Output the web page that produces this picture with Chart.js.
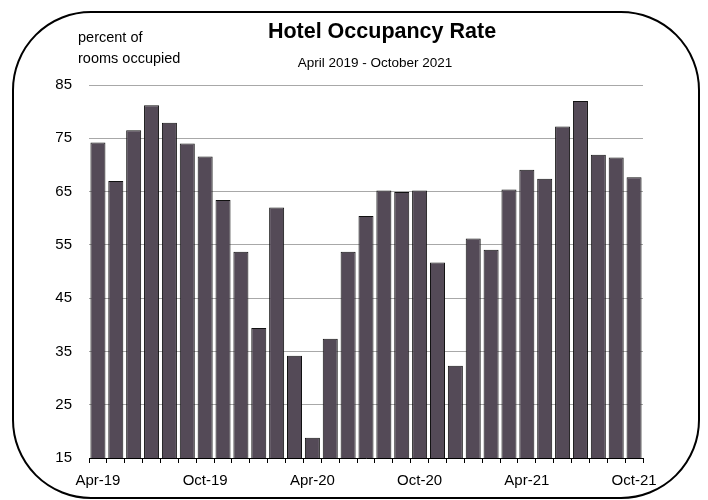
<!DOCTYPE html>
<html>
<head>
<meta charset="utf-8">
<script src="https://cdn.jsdelivr.net/npm/chart.js@4"></script>
<style>
  html, body { margin: 0; padding: 0; background: #fff; }
  #wrap { width: 708px; height: 500px; }
</style>
</head>
<body>
<div id="wrap"><canvas id="occChart" width="708" height="500"></canvas></div>
<script>
// monthly labels, Apr-19 .. Oct-21
const months = [
  'Apr-19','May-19','Jun-19','Jul-19','Aug-19','Sep-19','Oct-19','Nov-19','Dec-19',
  'Jan-20','Feb-20','Mar-20','Apr-20','May-20','Jun-20','Jul-20','Aug-20','Sep-20',
  'Oct-20','Nov-20','Dec-20','Jan-21','Feb-21','Mar-21','Apr-21','May-21','Jun-21',
  'Jul-21','Aug-21','Sep-21','Oct-21'
];
const occupancy = [
  74.2, 67.0, 76.5, 81.2, 77.9, 74.0, 71.6, 63.4, 53.7,
  39.4, 62.0, 34.2, 18.8, 37.4, 53.7, 60.4, 65.2, 64.9,
  65.2, 51.7, 32.3, 56.2, 54.1, 65.4, 69.1, 67.4, 77.2,
  82.0, 71.9, 71.4, 67.7
];
const yTicks = [15, 25, 35, 45, 55, 65, 75, 85];
const shownLabels = ['Apr-19', 'Oct-19', 'Apr-20', 'Oct-20', 'Apr-21', 'Oct-21'];

const FONT = '"Liberation Sans", Arial, sans-serif';

// frame + title texts
const decorations = {
  id: 'decorations',
  afterDraw(chart) {
    const ctx = chart.ctx;
    ctx.save();
    // rounded border
    const x0 = 13, y0 = 12, x1 = 699, y1 = 498, r = 78;
    ctx.beginPath();
    ctx.moveTo(x0 + r, y0);
    ctx.lineTo(x1 - r, y0);
    ctx.arcTo(x1, y0, x1, y0 + r, r);
    ctx.lineTo(x1, y1 - r);
    ctx.arcTo(x1, y1, x1 - r, y1, r);
    ctx.lineTo(x0 + r, y1);
    ctx.arcTo(x0, y1, x0, y1 - r, r);
    ctx.lineTo(x0, y0 + r);
    ctx.arcTo(x0, y0, x0 + r, y0, r);
    ctx.closePath();
    ctx.lineWidth = 2;
    ctx.strokeStyle = '#000';
    ctx.stroke();

    ctx.fillStyle = '#000';
    ctx.textBaseline = 'middle';
    ctx.textAlign = 'center';
    ctx.font = 'bold 21.5px ' + FONT;
    ctx.fillText('Hotel Occupancy Rate', 382, 32);
    ctx.font = '13.5px ' + FONT;
    ctx.fillText('April 2019 - October 2021', 375, 63);

    ctx.textAlign = 'left';
    ctx.font = '14.5px ' + FONT;
    ctx.fillText('percent of', 78, 38);
    ctx.fillText('rooms occupied', 78, 59);
    ctx.restore();
  }
};

new Chart(document.getElementById('occChart'), {
  type: 'bar',
  data: {
    labels: months,
    datasets: [{
      label: 'Occupancy',
      data: occupancy,
      backgroundColor: '#544a57',
      borderColor: '#111',
      borderWidth: 1,
      barPercentage: 0.84,
      categoryPercentage: 1.0
    }]
  },
  options: {
    responsive: false,
    animation: false,
    layout: { padding: { top: 85, right: 65, bottom: 0, left: 0 } },
    plugins: {
      legend: { display: false },
      tooltip: { enabled: false }
    },
    scales: {
      x: {
        offset: true,
        grid: {
          offset: true,
          drawOnChartArea: false,
          drawTicks: true,
          tickLength: 5,
          color: '#000'
        },
        border: { display: true, color: '#000', width: 1 },
        ticks: {
          autoSkip: false,
          maxRotation: 0,
          padding: 9,
          color: '#000',
          font: { family: FONT, size: 15 },
          callback: function (val) {
            const lab = this.getLabelForValue(val);
            return shownLabels.includes(lab) ? lab : '';
          }
        },
        afterFit(scale) { scale.height = 42; }
      },
      y: {
        min: 15,
        max: 85,
        afterBuildTicks(scale) { scale.ticks = yTicks.map(v => ({ value: v })); },
        grid: { color: '#a8a8a8', lineWidth: 1, drawTicks: false },
        border: { display: false },
        ticks: {
          padding: 17,
          color: '#000',
          font: { family: FONT, size: 15 }
        },
        afterFit(scale) { scale.width = 89; }
      }
    }
  },
  plugins: [decorations]
});
</script>
</body>
</html>
